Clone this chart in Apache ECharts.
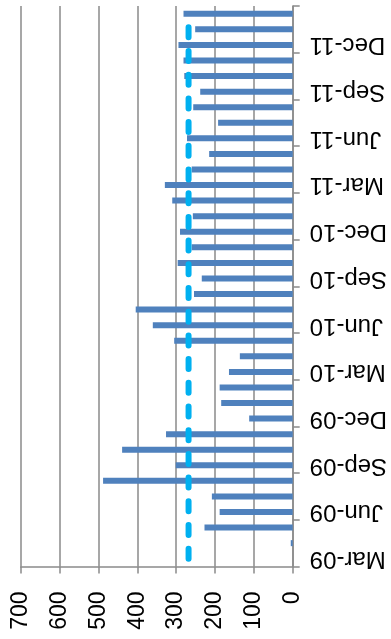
<!DOCTYPE html>
<html>
<head>
<meta charset="utf-8">
<script src="https://cdn.jsdelivr.net/npm/echarts@6/dist/echarts.min.js"></script>
<style>
html,body{margin:0;padding:0;background:#fff;}
#chart{width:391px;height:639px;}
</style>
</head>
<body>
<div id="chart"></div>
<script>
const categories = ['Mar-09','Apr-09','May-09','Jun-09','Jul-09','Aug-09','Sep-09','Oct-09','Nov-09','Dec-09','Jan-10','Feb-10',
  'Mar-10','Apr-10','May-10','Jun-10','Jul-10','Aug-10','Sep-10','Oct-10','Nov-10','Dec-10','Jan-11','Feb-11',
  'Mar-11','Apr-11','May-11','Jun-11','Jul-11','Aug-11','Sep-11','Oct-11','Nov-11','Dec-11','Jan-12','Feb-12'];
const barValues = [0,5,227,188,208,488,301,439,326,112,184,188,
  164,136,305,360,404,254,234,296,260,290,257,310,
  329,260,215,272,192,256,238,279,281,294,251,281];
const averageValues = [268,268,268,268,268,268,268,268,268,268,268,268,
  268,268,268,268,268,268,268,268,268,268,268,268,
  268,268,268,268,268,268,268,268,268,268,268,268];
const valueTicks = [0,100,200,300,400,500,600,700];

const chart = echarts.init(document.getElementById('chart'), null, {renderer:'canvas'});
const gridColor = '#8a8a8a';
chart.setOption({
  animation:false,
  backgroundColor:'#ffffff',
  grid:{left:20.7, right:98.3, top:6, bottom:72.5, containLabel:false},
  xAxis:{
    type:'value', position:'bottom', inverse:true,
    min:valueTicks[0], max:valueTicks[valueTicks.length-1], interval:100,
    axisLine:{show:true, onZero:false, lineStyle:{color:gridColor, width:1.5}},
    axisTick:{show:true, length:7, lineStyle:{color:gridColor, width:1.5}},
    splitLine:{show:true, lineStyle:{color:gridColor, width:1.5}},
    axisLabel:{rotate:90, margin:25, color:'#000', fontFamily:'Liberation Sans', fontSize:23}
  },
  yAxis:{
    type:'category', position:'right', data:categories, boundaryGap:true,
    axisLine:{show:true, onZero:false, lineStyle:{color:gridColor, width:1.5}},
    axisTick:{show:true, inside:false, length:7, interval:2, lineStyle:{color:gridColor, width:1.5}},
    splitLine:{show:false},
    axisLabel:{interval:2, rotate:180, margin:17, color:'#000', fontFamily:'Liberation Sans', fontSize:24}
  },
  series:[
    {type:'bar', data:barValues, barWidth:6, itemStyle:{color:'#4F81BD'}},
    {type:'line', data:averageValues, symbol:'none', z:5,
     lineStyle:{color:'#00B0F0', width:6, type:[10,13.7], cap:'round'}}
  ]
});
</script>
</body>
</html>
